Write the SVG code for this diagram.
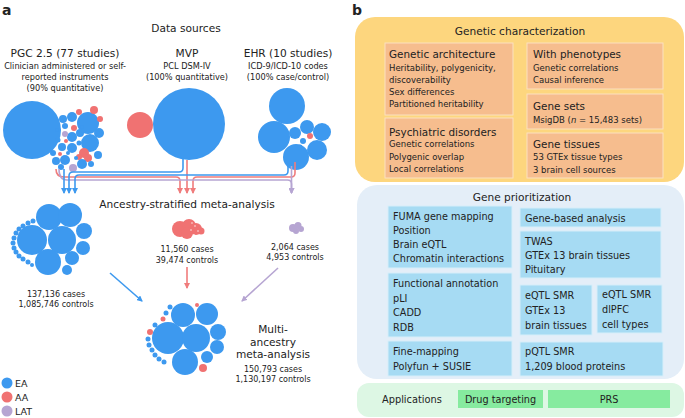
<svg xmlns="http://www.w3.org/2000/svg" width="685" height="418" viewBox="0 0 685 418">
<style>
text{font-family:"DejaVu Sans","Liberation Sans",sans-serif;fill:#222}
.h{font-size:10.6px}
.st{font-size:8.2px}
.n{font-size:8px}
.ea{fill:#3D99EF}
.aa{fill:#F07272}
.lat{fill:#B6A5D2}
.bt{font-size:10.4px}
.os{font-size:8.5px}
.bs{font-size:9.7px}
.ob{fill:#F6BD8E;stroke:#FBE0C0;stroke-width:1}
.bb{fill:#A6DBF3;stroke:#D6EEF9;stroke-width:1}
.gb{fill:#86EB9F}
.lb{fill:none;stroke:#3D99EF;stroke-width:1.6}
.lr{fill:none;stroke:#F07C7C;stroke-width:1.6}
.lp{fill:none;stroke:#B6A5D2;stroke-width:1.6}
.c{text-anchor:middle}
</style>
<defs>
<marker id="mb" markerWidth="6" markerHeight="6" refX="5" refY="3" orient="auto" markerUnits="userSpaceOnUse"><path d="M0,0 L6,3 L0,6 z" fill="#3D99EF"/></marker>
<marker id="mr" markerWidth="6" markerHeight="6" refX="5" refY="3" orient="auto" markerUnits="userSpaceOnUse"><path d="M0,0 L6,3 L0,6 z" fill="#F07C7C"/></marker>
<marker id="mp" markerWidth="6" markerHeight="6" refX="5" refY="3" orient="auto" markerUnits="userSpaceOnUse"><path d="M0,0 L6,3 L0,6 z" fill="#B6A5D2"/></marker>
</defs>
<rect width="685" height="418" fill="#fff"/>

<!-- Panel a -->
<text x="2" y="15" style="font-size:14px;font-weight:bold">a</text>
<text x="186" y="32" class="h c">Data sources</text>

<g id="pgc">
<text x="65" y="57" class="h c">PGC 2.5 (77 studies)</text>
<text x="65" y="69" class="st c">Clinician administered or self-</text>
<text x="65" y="80" class="st c">reported instruments</text>
<text x="65" y="91" class="st c">(90% quantitative)</text>
<circle cx="32" cy="130" r="29" class="ea"/>
<circle cx="88" cy="123" r="11" class="ea"/>
<circle cx="90" cy="143" r="9" class="ea"/>
<circle cx="63" cy="119" r="4" class="ea"/>
<circle cx="72" cy="117" r="5" class="ea"/>
<circle cx="79" cy="112" r="3" class="aa"/>
<circle cx="94" cy="110" r="4" class="aa"/>
<circle cx="100" cy="119" r="3" class="aa"/>
<circle cx="99" cy="133" r="5" class="ea"/>
<circle cx="98" cy="155" r="4" class="ea"/>
<circle cx="84" cy="153" r="5" class="aa"/>
<circle cx="88" cy="158" r="4" class="aa"/>
<circle cx="79" cy="157" r="3" class="aa"/>
<circle cx="82" cy="164" r="5" class="ea"/>
<circle cx="73" cy="168" r="4" class="lat"/>
<circle cx="65" cy="160" r="5" class="ea"/>
<circle cx="56" cy="161" r="4" class="ea"/>
<circle cx="53" cy="153" r="3" class="ea"/>
<circle cx="62" cy="147" r="4" class="ea"/>
<circle cx="72" cy="148" r="5" class="ea"/>
<circle cx="72" cy="137" r="5" class="ea"/>
<circle cx="74" cy="128" r="3" class="aa"/>
<circle cx="65" cy="134" r="3" class="lat"/>
<circle cx="80" cy="133" r="4" class="ea"/>
<circle cx="65" cy="126" r="3" class="ea"/>
<circle cx="58" cy="140" r="2.5" class="ea"/>
<circle cx="66" cy="141" r="2" class="aa"/>
<circle cx="79" cy="143" r="2.5" class="ea"/>
<circle cx="82" cy="127" r="2" class="ea"/>
<circle cx="76" cy="158" r="2" class="ea"/>
<circle cx="91" cy="164" r="3" class="ea"/>
<circle cx="61" cy="167" r="3" class="ea"/>
<circle cx="57" cy="130" r="2" class="ea"/>
<circle cx="60" cy="154" r="2" class="aa"/>
<circle cx="68" cy="153" r="2" class="ea"/>
</g>

<g id="mvp">
<text x="187" y="57" class="h c">MVP</text>
<text x="187" y="69" class="st c">PCL DSM-IV</text>
<text x="187" y="80" class="st c">(100% quantitative)</text>
<circle cx="140" cy="125" r="13" class="aa"/>
<circle cx="189" cy="124" r="36" class="ea"/>
</g>

<g id="ehr">
<text x="288" y="57" class="h c">EHR (10 studies)</text>
<text x="288" y="69" class="st c">ICD-9/ICD-10 codes</text>
<text x="288" y="80" class="st c">(100% case/control)</text>
<circle cx="287" cy="106" r="18" class="ea"/>
<circle cx="274" cy="137" r="16" class="ea"/>
<circle cx="296" cy="157" r="13" class="ea"/>
<circle cx="322" cy="132" r="9" class="ea"/>
<circle cx="317" cy="150" r="10" class="ea"/>
<circle cx="307" cy="127" r="7" class="ea"/>
<circle cx="295" cy="133" r="6" class="ea"/>
<circle cx="303" cy="141" r="3" class="ea"/>
<circle cx="300" cy="147" r="2.5" class="ea"/>
<circle cx="310" cy="136" r="3" class="aa"/>
</g>

<g id="connectors">
<path class="lr" d="M56,169 Q56,177 64,177 H176 Q180,177 180,181 V193" marker-end="url(#mr)"/>
<path class="lr" d="M187,160 V193" marker-end="url(#mr)"/>
<path class="lr" d="M295,162 V173 Q295,177 291,177 H197 Q193,177 193,181 V193" marker-end="url(#mr)"/>
<path class="lp" d="M59,169 Q59,180 67,180 H287.5 Q291.5,180 291.5,184 V193" marker-end="url(#mp)"/>
<path class="lp" d="M291.5,166 V193" marker-end="url(#mp)"/>
<path class="lb" d="M64,169 V193" marker-end="url(#mb)"/>
<path class="lb" d="M183,159 V168 Q183,172 179,172 H73 Q69,172 69,176 V193" marker-end="url(#mb)"/>
<path class="lb" d="M288,165 V171 Q288,175 284,175 H79 Q75,175 75,179 V193" marker-end="url(#mb)"/>
<path class="lb" d="M110,273 L142,301" marker-end="url(#mb)"/>
<path class="lr" d="M187,267 V288" marker-end="url(#mr)"/>
<path class="lp" d="M278,268 L242,301" marker-end="url(#mp)"/>
</g>

<text x="187" y="208" class="h c">Ancestry-stratified meta-analysis</text>

<g id="ea-strat">
<circle cx="49" cy="217" r="13" class="ea"/>
<circle cx="70" cy="215" r="12" class="ea"/>
<circle cx="32" cy="240" r="15" class="ea"/>
<circle cx="62" cy="240" r="14" class="ea"/>
<circle cx="84" cy="231" r="8" class="ea"/>
<circle cx="83" cy="248" r="7" class="ea"/>
<circle cx="48" cy="262" r="13" class="ea"/>
<circle cx="72" cy="258" r="7" class="ea"/>
<circle cx="67" cy="270" r="5" class="ea"/>
<circle cx="33" cy="221" r="2.5" class="ea"/>
<circle cx="28" cy="223" r="2.5" class="ea"/>
<circle cx="23" cy="226" r="2.5" class="ea"/>
<circle cx="19" cy="229" r="2.5" class="ea"/>
<circle cx="16" cy="233" r="2.5" class="ea"/>
<circle cx="14" cy="238" r="2.5" class="ea"/>
<circle cx="13" cy="243" r="2.5" class="ea"/>
<circle cx="14" cy="248" r="2.5" class="ea"/>
<circle cx="16" cy="252" r="2.5" class="ea"/>
<circle cx="19" cy="256" r="2.5" class="ea"/>
<circle cx="23" cy="259" r="2.5" class="ea"/>
<circle cx="28" cy="262" r="2.5" class="ea"/>
<circle cx="32" cy="265" r="2" class="ea"/>
<text x="56" y="297" class="n c">137,136 cases</text>
<text x="56" y="307" class="n c">1,085,746 controls</text>
</g>

<g id="aa-strat">
<circle cx="180" cy="229" r="8" class="aa"/>
<circle cx="189" cy="226" r="7" class="aa"/>
<circle cx="196" cy="229" r="6" class="aa"/>
<circle cx="187" cy="233" r="6" class="aa"/>
<circle cx="201" cy="231" r="3.5" class="aa"/>
<circle cx="192" cy="223" r="0.7" fill="#fff"/>
<circle cx="195" cy="226" r="0.7" fill="#fff"/>
<circle cx="198" cy="231" r="0.7" fill="#fff"/>
<circle cx="191" cy="230" r="0.7" fill="#fff"/>
<circle cx="194" cy="235" r="0.7" fill="#fff"/>
<text x="187" y="252" class="n c">11,560 cases</text>
<text x="187" y="263" class="n c">39,474 controls</text>
</g>

<g id="lat-strat">
<circle cx="293" cy="228" r="4" class="lat"/>
<circle cx="298" cy="225.5" r="3.5" class="lat"/>
<circle cx="301" cy="229" r="3" class="lat"/>
<circle cx="296" cy="231" r="3" class="lat"/>
<text x="295" y="250" class="n c">2,064 cases</text>
<text x="295" y="260" class="n c">4,953 controls</text>
</g>

<g id="multi">
<circle cx="183" cy="315" r="12" class="ea"/>
<circle cx="207" cy="314" r="11" class="ea"/>
<circle cx="168" cy="338" r="16" class="ea"/>
<circle cx="196" cy="338" r="14" class="ea"/>
<circle cx="218" cy="332" r="8" class="ea"/>
<circle cx="217" cy="347" r="7" class="ea"/>
<circle cx="185" cy="362" r="13" class="ea"/>
<circle cx="207" cy="357" r="6" class="ea"/>
<circle cx="203" cy="368" r="4" class="aa"/>
<circle cx="197" cy="305" r="2" class="aa"/>
<circle cx="170" cy="307" r="2.5" class="ea"/>
<circle cx="166" cy="313" r="2.5" class="ea"/>
<circle cx="163" cy="319" r="2.5" class="aa"/>
<circle cx="155" cy="325" r="2.5" class="ea"/>
<circle cx="150" cy="332" r="3" class="aa"/>
<circle cx="148" cy="339" r="2.5" class="ea"/>
<circle cx="149" cy="345" r="2.5" class="ea"/>
<circle cx="152" cy="350" r="2.5" class="ea"/>
<circle cx="155" cy="355" r="2.5" class="ea"/>
<circle cx="159" cy="359" r="2.5" class="ea"/>
<circle cx="164" cy="362" r="2.5" class="ea"/>
<text x="273" y="333" class="h c">Multi-</text>
<text x="273" y="346" class="h c">ancestry</text>
<text x="273" y="358" class="h c">meta-analysis</text>
<text x="273" y="372" class="n c">150,793 cases</text>
<text x="273" y="382" class="n c">1,130,197 controls</text>
</g>

<g id="legend">
<circle cx="7" cy="383" r="5.5" class="ea"/>
<circle cx="7" cy="397" r="5.5" class="aa"/>
<circle cx="7" cy="411" r="5.5" class="lat"/>
<text x="15" y="386.5" style="font-size:9.5px">EA</text>
<text x="15" y="400.5" style="font-size:9.5px">AA</text>
<text x="15" y="414.5" style="font-size:9.5px">LAT</text>
</g>

<!-- Panel b -->
<text x="352" y="15" style="font-size:14px;font-weight:bold">b</text>

<g id="genetic-characterization">
<rect x="355" y="17" width="329" height="165" rx="20" fill="#FDD67E"/>
<text x="520" y="35" class="h c">Genetic characterization</text>
</g>
<g id="genetic-architecture">
<rect x="385" y="43" width="128" height="72" class="ob"/>
<text x="389" y="58" class="bt">Genetic architecture</text>
<text x="389" y="71" class="os">Heritability, polygenicity,</text>
<text x="389" y="83" class="os">discoverability</text>
<text x="389" y="95" class="os">Sex differences</text>
<text x="389" y="107" class="os">Partitioned heritability</text>
</g>
<g id="psychiatric-disorders">
<rect x="385" y="118" width="128" height="60" class="ob"/>
<text x="389" y="136" class="bt">Psychiatric disorders</text>
<text x="389" y="147" class="os">Genetic correlations</text>
<text x="389" y="160" class="os">Polygenic overlap</text>
<text x="389" y="172" class="os">Local correlations</text>
</g>
<g id="with-phenotypes">
<rect x="527" y="43" width="136" height="46" class="ob"/>
<text x="533" y="58" class="bt">With phenotypes</text>
<text x="533" y="71" class="os">Genetic correlations</text>
<text x="533" y="83" class="os">Causal inference</text>
</g>
<g id="gene-sets">
<rect x="527" y="94" width="136" height="35" class="ob"/>
<text x="533" y="110" class="bt">Gene sets</text>
<text x="533" y="123" class="os">MsigDB (<tspan font-style="italic">n</tspan> = 15,483 sets)</text>
</g>
<g id="gene-tissues">
<rect x="527" y="133" width="136" height="45" class="ob"/>
<text x="533" y="148" class="bt">Gene tissues</text>
<text x="533" y="160" class="os">53 GTEx tissue types</text>
<text x="533" y="173" class="os">3 brain cell sources</text>
</g>

<g id="gene-prioritization">
<rect x="357" y="185" width="327" height="194" rx="20" fill="#E4EEF8"/>
<text x="522" y="201" class="h c">Gene prioritization</text>
</g>
<g id="fuma">
<rect x="388" y="206" width="124" height="62" class="bb"/>
<text x="393" y="219.5" class="bs">FUMA gene mapping</text>
<text x="393" y="233.5" class="bs">Position</text>
<text x="393" y="247.5" class="bs">Brain eQTL</text>
<text x="393" y="262" class="bs">Chromatin interactions</text>
</g>
<g id="gene-based">
<rect x="520" y="208" width="141" height="19" class="bb"/>
<text x="525" y="221.5" class="bs">Gene-based analysis</text>
</g>
<g id="twas">
<rect x="520" y="231" width="141" height="47" class="bb"/>
<text x="525" y="244.5" class="bs">TWAS</text>
<text x="525" y="258.5" class="bs">GTEx 13 brain tissues</text>
<text x="525" y="273" class="bs">Pituitary</text>
</g>
<g id="functional">
<rect x="388" y="273" width="124" height="64" class="bb"/>
<text x="393" y="286.5" class="bs">Functional annotation</text>
<text x="393" y="301.5" class="bs">pLI</text>
<text x="393" y="315.5" class="bs">CADD</text>
<text x="393" y="330.5" class="bs">RDB</text>
</g>
<g id="eqtl-gtex">
<rect x="520" y="285" width="72" height="50" class="bb"/>
<text x="525" y="298.5" class="bs">eQTL SMR</text>
<text x="525" y="313.5" class="bs">GTEx 13</text>
<text x="525" y="328.5" class="bs">brain tissues</text>
</g>
<g id="eqtl-dlpfc">
<rect x="597" y="285" width="65" height="48" class="bb"/>
<text x="602" y="297.5" class="bs">eQTL SMR</text>
<text x="602" y="312.5" class="bs">dlPFC</text>
<text x="602" y="327.5" class="bs">cell types</text>
</g>
<g id="fine-mapping">
<rect x="388" y="341" width="124" height="35" class="bb"/>
<text x="393" y="354.5" class="bs">Fine-mapping</text>
<text x="393" y="369.5" class="bs">Polyfun + SUSIE</text>
</g>
<g id="pqtl">
<rect x="520" y="342" width="143" height="34" class="bb"/>
<text x="525" y="354.5" class="bs">pQTL SMR</text>
<text x="525" y="369.5" class="bs">1,209 blood proteins</text>
</g>

<g id="applications">
<rect x="357" y="383" width="327" height="34" rx="12" fill="#DDF7E4"/>
<text x="382" y="402.5" style="font-size:9.8px">Applications</text>
</g>
<g id="drug-targeting">
<rect x="458" y="390" width="85" height="18" class="gb"/>
<text x="500.5" y="402.5" class="bs c">Drug targeting</text>
</g>
<g id="prs">
<rect x="548" y="390" width="122" height="18" class="gb"/>
<text x="609" y="402.5" class="bs c">PRS</text>
</g>
</svg>
